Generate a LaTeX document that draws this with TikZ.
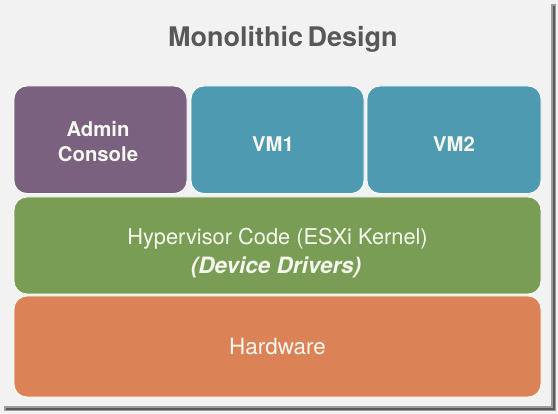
\documentclass[tikz,border=0pt]{standalone}
\usepackage{fontspec}
\setmainfont{TeX Gyre Heros}
\definecolor{bgc}{HTML}{F2F2F2}
\definecolor{shadowc}{HTML}{5A5A5A}
\definecolor{titlec}{HTML}{585858}
\definecolor{purplec}{HTML}{7A6180}
\definecolor{tealc}{HTML}{4E9BB1}
\definecolor{greenc}{HTML}{7A9D56}
\definecolor{orangec}{HTML}{DB8257}
\definecolor{txtc}{HTML}{F6F8F0}
\begin{document}
\begin{tikzpicture}[x=1pt,y=-1pt,
  layer/.style={draw=white, line width=0.8pt, rounded corners=13pt},
  lbl/.style={text=txtc, anchor=base, inner sep=0pt},
  boldtxt/.style={font=\fontsize{20.3}{24}\selectfont\bfseries}]
\useasboundingbox (0,0) rectangle (558,414);
\fill[bgc] (0,0) rectangle (558,414);
\fill[shadowc!60] (551,4) rectangle (556,411);
\fill[shadowc!60] (4,406) rectangle (556,411);
\fill[shadowc] (553,6) rectangle (555,410);
\fill[shadowc] (6,408) rectangle (555,410);
\node[text=titlec, anchor=base, inner sep=0pt, font=\fontsize{27}{30}\selectfont\bfseries] (title) at (283,47) {Monolithic\hspace{-3pt} Design};
\path[layer, fill=purplec] (14,86) rectangle (187,193.5);
\node[lbl, boldtxt] (admin) at (98,137) {Admin};
\node[lbl, boldtxt] (console) at (98,162) {Console};
\path[layer, fill=tealc] (191,86) rectangle (364,193.5);
\node[lbl, boldtxt] (vm1) at (273,152) {VM1};
\path[layer, fill=tealc] (367,86) rectangle (541,193.5);
\node[lbl, boldtxt] (vm2) at (454,152) {VM2};
\path[layer, fill=greenc] (14,197) rectangle (541,294);
\node[lbl, font=\fontsize{21.8}{24}\selectfont] (hyp) at (277.5,244.5) {Hypervisor Code (ESXi Kernel)};
\node[lbl, font=\fontsize{22.5}{24}\selectfont\bfseries\itshape] (drv) at (276,273.5) {(Device Drivers)};
\path[layer, fill=orangec] (14,296) rectangle (541,397);
\node[lbl, font=\fontsize{22.4}{24}\selectfont] (hw) at (277.5,355) {Hardware};
\end{tikzpicture}
\end{document}
